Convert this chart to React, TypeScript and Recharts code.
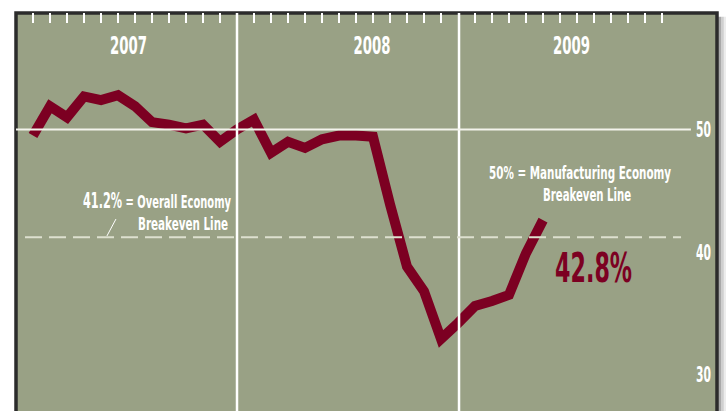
import React from 'react';
import {
  ComposedChart,
  Line,
  XAxis,
  YAxis,
  CartesianGrid,
  ReferenceLine,
  ReferenceArea,
  ReferenceDot,
} from 'recharts';

// ---- data (month index along the x axis, PMI value) ----
const monthIndex = [
  0, 1, 2, 3, 4, 5, 6, 7, 8, 9, 10, 11, 12, 13, 14, 15, 16, 17, 18, 19, 20,
  21, 22, 23, 24, 25, 26, 27, 28, 29, 30,
];
const pmiValues = [
  49.5, 51.9, 51.0, 52.7, 52.4, 52.8, 51.9, 50.6, 50.4, 50.1, 50.4, 49.0,
  50.0, 50.8, 48.1, 49.0, 48.5, 49.2, 49.5, 49.5, 49.4, 43.9, 38.8, 36.8,
  32.9, 34.2, 35.6, 36.0, 36.5, 39.9, 42.6,
];
const topTicks = [
  0, 1, 2, 3, 4, 5, 6, 7, 8, 9, 10, 11, 13, 14, 15, 16, 17, 18, 19, 20, 21,
  22, 23, 24, 26, 27, 28, 29, 30, 31, 32, 33, 34, 35, 36, 37,
];
const yearLabels = ['2007', '2008', '2009'];
const yearLabelX = [5.62, 19.94, 31.68];
const yearLabelY = 56.16;
const yearBoundaries = [12, 25.06];
const yTicks = [30, 40, 50];
const manufacturingBreakeven = 50;
const overallBreakeven = 41.2;
const latestLabel = '42.8%';

const data = monthIndex.map((m, i) => ({ m, v: pmiValues[i] }));

const FONT =
  "'Liberation Sans Narrow','DejaVu Sans Condensed',Roboto,Arial,sans-serif";
const BG = '#99a185';
const MAROON = '#7c0022';
const FRAME = '#2b2b2b';

type TOpts = {
  size: number;
  len: number;
  anchor?: 'start' | 'middle' | 'end';
  fill?: string;
  weight?: number;
};

const textShape = (label: string, o: TOpts) => (p: any) => (
  <text
    x={p.cx}
    y={p.cy}
    fill={o.fill ?? '#ffffff'}
    fontSize={o.size}
    fontWeight={o.weight ?? 700}
    fontFamily={FONT}
    textAnchor={o.anchor ?? 'start'}
    textLength={o.len}
    lengthAdjust="spacingAndGlyphs"
  >
    {label}
  </text>
);

const overallShape = (p: any) => (
  <text
    x={p.cx}
    y={p.cy}
    fill="#ffffff"
    fontSize={18.5}
    fontWeight={700}
    fontFamily={FONT}
    textLength={148}
    lengthAdjust="spacingAndGlyphs"
  >
    <tspan fontSize={21}>41.2%</tspan>
    <tspan> = Overall Economy</tspan>
  </text>
);

const YTick = (p: any) => (
  <text
    x={p.x}
    y={p.y}
    dy="0.36em"
    textAnchor="end"
    fill="#ffffff"
    fontSize={21}
    fontWeight={700}
    fontFamily={FONT}
    textLength={15}
    lengthAdjust="spacingAndGlyphs"
  >
    {p.payload.value}
  </text>
);

export default function App() {
  return (
    <div
      style={{
        position: 'absolute',
        left: 0,
        top: 0,
        width: 726,
        height: 411,
        overflow: 'hidden',
        background: '#ffffff',
      }}
    >
      <ComposedChart
        width={726}
        height={411}
        data={data}
        margin={{ top: 13, right: 9, bottom: 0, left: 16 }}
      >
        <CartesianGrid horizontal={false} vertical={false} fill={BG} />
        <XAxis
          type="number"
          dataKey="m"
          domain={[-1, 40.235]}
          allowDataOverflow
          orientation="top"
          mirror
          height={30}
          ticks={topTicks}
          interval={0}
          axisLine={false}
          tickLine={{ stroke: '#ffffff', strokeWidth: 2 }}
          tickSize={10}
          tickFormatter={() => ''}
        />
        <YAxis
          type="number"
          domain={[27.02, 59.51]}
          allowDataOverflow
          orientation="right"
          mirror
          width={40}
          ticks={yTicks}
          interval={0}
          axisLine={false}
          tickLine={false}
          tickSize={0}
          tickMargin={6}
          tick={<YTick />}
        />
        {/* right drop shadow */}
        <ReferenceArea x1={40.3} x2={40.47} y1={20} y2={59.2} fill="#a9a9a9" fillOpacity={1} stroke="none" ifOverflow="visible" />
        <ReferenceArea x1={40.47} x2={40.64} y1={20} y2={59.2} fill="#cfcfcf" fillOpacity={1} stroke="none" ifOverflow="visible" />
        <ReferenceArea x1={40.64} x2={40.8} y1={20} y2={59.2} fill="#ececec" fillOpacity={1} stroke="none" ifOverflow="visible" />

        <Line
          type="linear"
          dataKey="v"
          stroke={MAROON}
          strokeWidth={10}
          strokeLinejoin="miter"
          strokeLinecap="butt"
          dot={false}
          activeDot={false}
          isAnimationActive={false}
        />

        {yearBoundaries.map((x) => (
          <ReferenceLine key={x} x={x} stroke="#ffffff" strokeWidth={2.5} />
        ))}
        <ReferenceLine
          segment={[
            { x: -1, y: manufacturingBreakeven },
            { x: 38.7, y: manufacturingBreakeven },
          ]}
          stroke="#f3f3ec"
          strokeWidth={2}
        />
        <ReferenceLine
          segment={[
            { x: -0.47, y: overallBreakeven },
            { x: 38.12, y: overallBreakeven },
          ]}
          stroke="#dde0cf"
          strokeWidth={2}
          strokeDasharray="17 7"
        />
        <ReferenceLine
          segment={[
            { x: 4.88, y: 42.69 },
            { x: 4.35, y: 41.31 },
          ]}
          stroke="#ffffff"
          strokeWidth={1}
        />

        {yearLabels.map((lab, i) => (
          <ReferenceDot
            key={lab}
            x={yearLabelX[i]}
            y={yearLabelY}
            r={0}
            shape={textShape(lab, { size: 25, len: 37, anchor: 'middle' })}
          />
        ))}

        <ReferenceDot x={2.94} y={43.59} r={0} shape={overallShape} />
        <ReferenceDot x={6.18} y={41.8} r={0} shape={textShape('Breakeven Line', { size: 18.5, len: 90 })} />

        <ReferenceDot x={32.18} y={45.96} r={0} shape={textShape('50% = Manufacturing Economy', { size: 18.5, len: 182, anchor: 'middle' })} />
        <ReferenceDot x={32.59} y={44.16} r={0} shape={textShape('Breakeven Line', { size: 18.5, len: 88, anchor: 'middle' })} />

        <ReferenceDot x={30.71} y={37.55} r={0} shape={textShape(latestLabel, { size: 41, len: 77, fill: MAROON })} />

        {/* outer frame */}
        <ReferenceArea
          x1={-1}
          x2={40.235}
          y1={20}
          y2={59.51}
          fill="none"
          stroke={FRAME}
          strokeWidth={3.5}
          ifOverflow="visible"
        />
      </ComposedChart>
    </div>
  );
}
